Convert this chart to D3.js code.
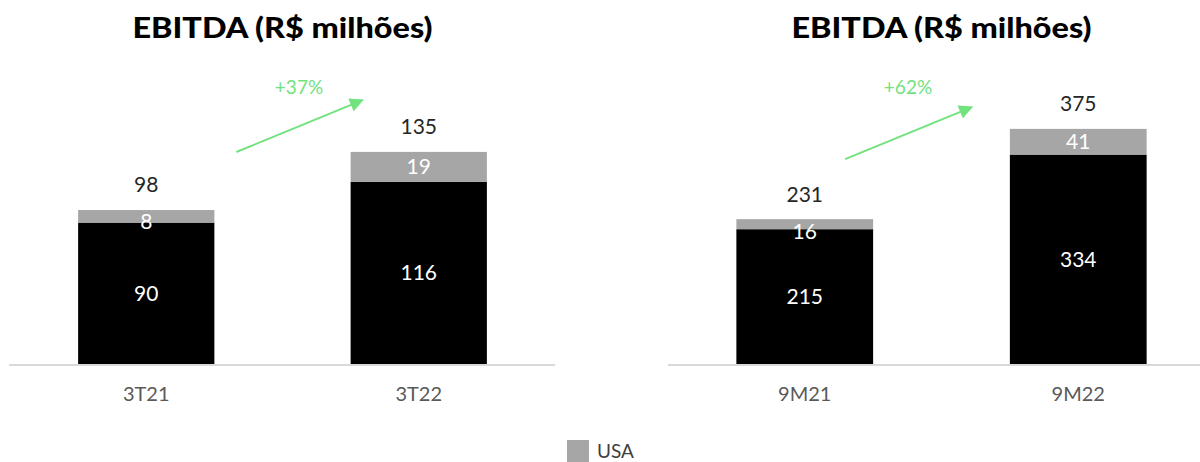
<!DOCTYPE html>
<html><head><meta charset="utf-8">
<script src="https://cdn.jsdelivr.net/npm/d3@7"></script>
<style>
html,body{margin:0;padding:0;background:#fff;}
svg{display:block;font-family:Lato,"Open Sans",sans-serif;}
</style></head>
<body><svg id="c" width="1200" height="462"></svg>
<script>
const title = "EBITDA (R$ milhões)";
const catsLeft = ["3T21", "3T22"];
const brasilLeft = [90, 116];
const usaLeft = [8, 19];
const totalLeft = [98, 135];
const growthLeft = "+37%";

const catsRight = ["9M21", "9M22"];
const brasilRight = [215, 334];
const usaRight = [16, 41];
const totalRight = [231, 375];
const growthRight = "+62%";

const legendLabels = ["USA"];

const BLACK = "#000000", GRAY = "#a6a6a6", GREEN = "#72e27e";
const svg = d3.select("#c");
const defs = svg.append("defs");
defs.append("marker").attr("id","ah").attr("viewBox","0 0 10 10").attr("refX",9).attr("refY",5)
  .attr("markerWidth",8).attr("markerHeight",7).attr("markerUnits","strokeWidth").attr("orient","auto")
  .append("path").attr("d","M0,0 L10,5 L0,10 Z").attr("fill",GREEN);

const baseY = 364;

function panel(cfg) {
  const g = svg.append("g");
  const x = d3.scaleBand().domain(cfg.cats).range(cfg.xr).paddingInner(0.5).paddingOuter(0.25);
  const y = d3.scaleLinear().domain([0, cfg.ymax]).range([baseY, baseY - cfg.ymax * cfg.ppu]);
  const bw = x.bandwidth();

  // title
  g.append("text").attr("x", (cfg.xr[0] + cfg.xr[1]) / 2 - 150).attr("y", 38)
    .attr("text-anchor","start").attr("font-size", 29).attr("font-weight", 900)
    .attr("textLength", 300).attr("lengthAdjust","spacingAndGlyphs")
    .attr("fill","#000").text(title);

  // axis
  const ax = g.append("g").attr("transform", `translate(0,${baseY + 1})`)
    .call(d3.axisBottom(x).tickSize(0).tickPadding(22));
  ax.select(".domain").attr("d", `M${cfg.lineX[0]},0H${cfg.lineX[1]}`).attr("stroke","#d9d9d9").attr("stroke-width",2);
  ax.selectAll("text").attr("font-size", 20).attr("fill","#595959").attr("font-family","Lato, sans-serif");

  const rows = cfg.cats.map((c,i) => ({c, b: cfg.brasil[i], u: cfg.usa[i], t: cfg.total[i]}));
  // black segments
  g.selectAll(".b").data(rows).join("rect")
    .attr("x", d => x(d.c)).attr("width", bw)
    .attr("y", d => y(d.b)).attr("height", d => y(0) - y(d.b)).attr("fill", BLACK);
  // gray segments
  g.selectAll(".u").data(rows).join("rect")
    .attr("x", d => x(d.c)).attr("width", bw)
    .attr("y", d => y(d.b + d.u)).attr("height", d => y(d.b) - y(d.b + d.u)).attr("fill", GRAY);
  // labels
  g.selectAll(".bl").data(rows).join("text")
    .attr("x", d => x(d.c) + bw/2).attr("y", d => (y(0) + y(d.b))/2).attr("dy","0.35em")
    .attr("text-anchor","middle").attr("font-size",21).attr("fill","#fff").text(d => d.b);
  g.selectAll(".ul").data(rows).join("text")
    .attr("x", d => x(d.c) + bw/2).attr("y", d => Math.max((y(d.b) + y(d.b + d.u))/2, y(d.b + d.u) + 12)).attr("dy","0.35em")
    .attr("text-anchor","middle").attr("font-size",21).attr("fill","#fff").text(d => d.u);
  g.selectAll(".tl").data(rows).join("text")
    .attr("x", d => x(d.c) + bw/2).attr("y", d => y(d.t) - 25).attr("dy","0.35em")
    .attr("text-anchor","middle").attr("font-size",21).attr("fill","#262626").text(d => d.t);

  // growth arrow
  const c0 = cfg.cats[0], c1 = cfg.cats[1];
  const x1 = x(c0) + bw + cfg.arrow[0], y1 = y(cfg.total[0]) + cfg.arrow[1];
  const x2 = x(c1) + cfg.arrow[2], y2 = y(cfg.total[1]) + cfg.arrow[3];
  g.append("line").attr("x1",x1).attr("y1",y1).attr("x2",x2 - 3).attr("y2",y2 + 1.2)
    .attr("stroke",GREEN).attr("stroke-width",2).attr("marker-end","url(#ah)");
  g.append("text").attr("x",(x1+x2)/2 - 2).attr("y",87).attr("dy","0.35em")
    .attr("text-anchor","middle").attr("font-size",19).attr("fill",GREEN).text(cfg.growth);
}

panel({cats: catsLeft, brasil: brasilLeft, usa: usaLeft, total: totalLeft, growth: growthLeft,
  xr: [10, 555], lineX: [9, 555], ymax: 150, ppu: 1.571, arrow: [22, -58, 15, -53]});
panel({cats: catsRight, brasil: brasilRight, usa: usaRight, total: totalRight, growth: growthRight,
  xr: [668, 1215], lineX: [668, 1200], ymax: 400, ppu: 0.627, arrow: [-28, -60, -35, -23]});

// legend
const lg = svg.append("g");
lg.selectAll("rect").data(legendLabels).join("rect")
  .attr("x",567).attr("y",440).attr("width",22).attr("height",22).attr("fill",GRAY);
lg.selectAll("text").data(legendLabels).join("text")
  .attr("x",597).attr("y",451).attr("dy","0.35em").attr("font-size",19).attr("fill","#404040").text(d => d);
</script></body></html>
